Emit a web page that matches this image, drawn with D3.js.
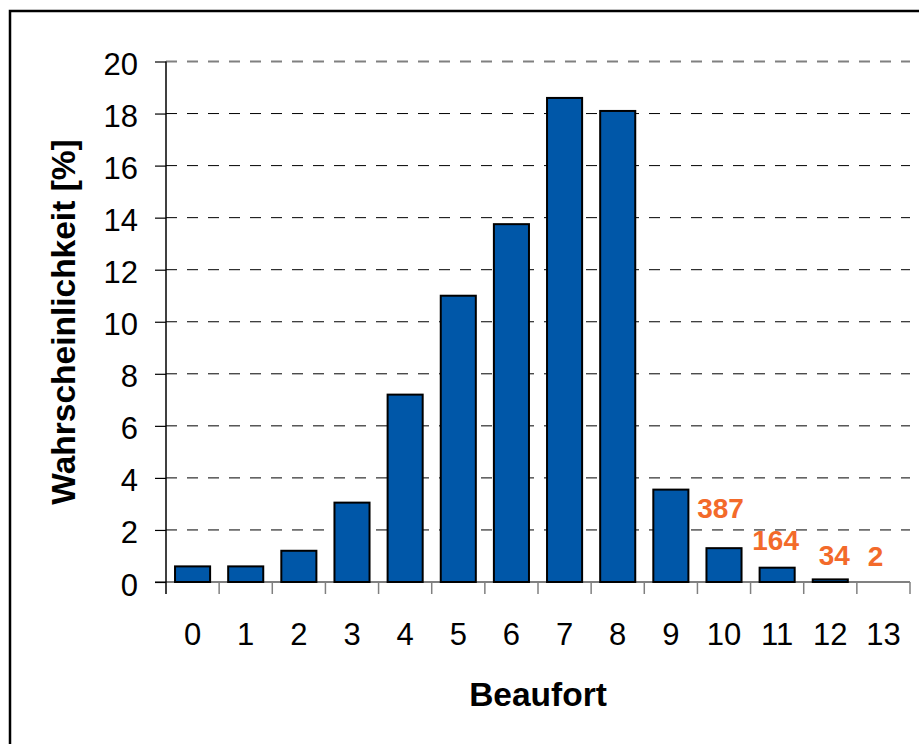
<!DOCTYPE html>
<meta charset="utf-8">
<style>
body { margin: 0; background: #fff; }
text { font-family: "Liberation Sans", Arial, sans-serif; fill: #000; }
.tick text { font-size: 31px; }
.title { font-size: 33.5px; font-weight: bold; }
.count { font-size: 28px; font-weight: bold; fill: #f36a2a; }
</style>
<svg width="919" height="744"></svg>
<script src="https://d3js.org/d3.v7.min.js"></script>
<script>

// Beaufort classes and probability in percent
var beaufort = ["0","1","2","3","4","5","6","7","8","9","10","11","12","13"];
var percent = [0.6, 0.6, 1.2, 3.05, 7.2, 11.0, 13.75, 18.6, 18.1, 3.55, 1.3, 0.55, 0.1, 0.007];
var yTicks = [0, 2, 4, 6, 8, 10, 12, 14, 16, 18, 20];
// absolute counts shown for the rare high classes
var countClass = ["10", "11", "12", "13"];
var countValue = [387, 164, 34, 2];

var svg = d3.select("svg");

// outer frame, runs off the right and bottom edge
svg.append("rect")
    .attr("x", 10).attr("y", 11)
    .attr("width", 1000).attr("height", 800)
    .attr("fill", "none")
    .attr("stroke", "#000")
    .attr("stroke-width", 2.5);

var plotLeft = 166, plotRight = 910, plotTop = 61.5, plotBottom = 582;

var x = d3.scaleBand()
    .domain(beaufort)
    .range([plotLeft, plotRight])
    .paddingInner(0.34)
    .paddingOuter(0.17);

var y = d3.scaleLinear()
    .domain([0, 20])
    .range([plotBottom, plotTop]);

// dashed grid
svg.append("g")
  .selectAll("line")
  .data(yTicks.filter(d => d > 0))
  .join("line")
    .attr("x1", plotLeft).attr("x2", plotRight)
    .attr("y1", d => y(d)).attr("y2", d => y(d))
    .attr("stroke", d => d === 20 ? "#808080" : "#000")
    .attr("stroke-width", d => d === 20 ? 2 : 1)
    .attr("stroke-dasharray", "11,10");

// x axis line and boundary ticks
var step = x.step();
var bounds = beaufort.map(d => x(d) - step * 0.17).concat([plotRight]);
svg.append("line")
    .attr("x1", plotLeft - 11).attr("x2", plotRight)
    .attr("y1", plotBottom).attr("y2", plotBottom)
    .attr("stroke", "#808080").attr("stroke-width", 2);
svg.append("g")
  .selectAll("line")
  .data(bounds.slice(1))
  .join("line")
    .attr("x1", d => d).attr("x2", d => d)
    .attr("y1", plotBottom).attr("y2", plotBottom + 12)
    .attr("stroke", "#808080").attr("stroke-width", 1.5);

// x labels
svg.append("g")
    .attr("transform", "translate(0," + plotBottom + ")")
    .call(d3.axisBottom(x).tickSize(0).tickPadding(63))
    .call(g => g.select(".domain").remove())
    .call(g => g.selectAll("text").attr("font-family", null).attr("font-size", null).attr("dy", 0));

// y axis
svg.append("g")
    .attr("transform", "translate(" + plotLeft + ",0)")
    .call(d3.axisLeft(y).tickValues(yTicks).tickSize(11).tickPadding(17))
    .call(g => g.select(".domain").attr("d", "M0," + plotTop + "V" + (plotBottom + 12)).attr("stroke-width", 1.5))
    .call(g => g.selectAll(".tick line").attr("stroke-width", 1.2))
    .call(g => g.selectAll("text").attr("font-family", null).attr("font-size", null).attr("dy", "0.42em"));

// bars
svg.append("g")
  .selectAll("rect")
  .data(beaufort.map((d, i) => ({ k: d, v: percent[i] })).filter(d => y(0) - y(d.v) > 0.5))
  .join("rect")
    .attr("x", d => x(d.k))
    .attr("y", d => y(d.v))
    .attr("width", x.bandwidth())
    .attr("height", d => y(0) - y(d.v))
    .attr("fill", "#0057a8")
    .attr("stroke", "#000")
    .attr("stroke-width", 2);

// counts above the small bars (label layout nudges)
var nudgeX = [-3.5, -1.5, 4, -8];
var nudgeY = [30, 18, 14, 16];
svg.append("g")
  .selectAll("text")
  .data(countClass)
  .join("text")
    .attr("class", "count")
    .attr("text-anchor", "middle")
    .attr("x", (d, i) => x(d) + x.bandwidth() / 2 + nudgeX[i])
    .attr("y", (d, i) => y(percent[beaufort.indexOf(d)]) - nudgeY[i])
    .text((d, i) => countValue[i]);

// axis titles
svg.append("text")
    .attr("class", "title")
    .attr("text-anchor", "middle")
    .attr("x", (plotLeft + plotRight) / 2)
    .attr("y", 706)
    .text("Beaufort");

svg.append("text")
    .attr("class", "title")
    .attr("text-anchor", "middle")
    .attr("transform", "translate(75," + 322 + ") rotate(-90)")
    .text("Wahrscheinlichkeit [%]");

</script>
